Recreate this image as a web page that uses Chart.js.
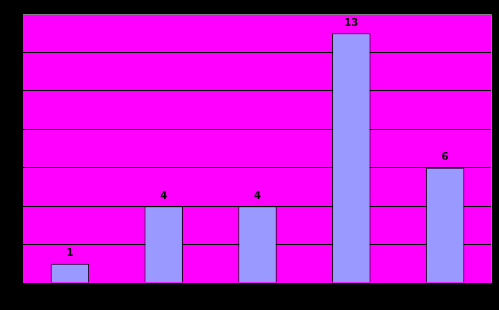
<!DOCTYPE html>
<html>
<head>
<meta charset="utf-8">
<script src="https://cdn.jsdelivr.net/npm/chart.js@4/dist/chart.umd.min.js"></script>
<style>
  html, body { margin: 0; padding: 0; background: #000; }
  #wrap { width: 499px; height: 310px; }
</style>
</head>
<body>
<div id="wrap"><canvas id="barChart"></canvas></div>
<script>
var categories = ['A', 'B', 'C', 'D', 'E'];
var counts = [1, 4, 4, 13, 6];
var yMax = 14;
var yStep = 2;

// fill plot area and print values above bars
var plotDecor = {
    id: 'plotDecor',
    beforeDraw: function (chart) {
        var a = chart.chartArea;
        var ctx = chart.ctx;
        ctx.save();
        ctx.fillStyle = '#FF00FF';
        ctx.fillRect(a.left, a.top, a.right - a.left, a.bottom - a.top);
        ctx.restore();
    },
    afterDatasetsDraw: function (chart) {
        var ctx = chart.ctx;
        var a = chart.chartArea;
        ctx.save();
        ctx.strokeStyle = '#808080';
        ctx.lineWidth = 1;
        ctx.beginPath();
        ctx.moveTo(a.left, a.top + 0.5);
        ctx.lineTo(a.right - 0.5, a.top + 0.5);
        ctx.lineTo(a.right - 0.5, a.bottom);
        ctx.stroke();
        ctx.fillStyle = '#000';
        ctx.font = 'bold 10px "DejaVu Sans", sans-serif';
        ctx.textAlign = 'center';
        ctx.textBaseline = 'bottom';
        chart.getDatasetMeta(0).data.forEach(function (bar, i) {
            ctx.fillText(counts[i], bar.x, bar.y - 5);
        });
        ctx.restore();
    }
};

var ctx = document.getElementById('barChart').getContext('2d');
new Chart(ctx, {
    type: 'bar',
    data: {
        labels: categories,
        datasets: [{
            data: counts,
            backgroundColor: '#9999FF',
            borderColor: '#000',
            borderWidth: 1,
            barPercentage: 0.41,
            categoryPercentage: 1
        }]
    },
    options: {
        responsive: true,
        maintainAspectRatio: false,
        animation: false,
        layout: {
            padding: {left: 23, top: 14, right: 7, bottom: 19}
        },
        plugins: {
            legend: {display: false},
            tooltip: {enabled: false}
        },
        scales: {
            x: {
                ticks: {display: false},
                grid: {display: false},
                border: {display: false}
            },
            y: {
                min: 0,
                max: yMax,
                ticks: {display: false, stepSize: yStep},
                grid: {color: '#000', lineWidth: 1, drawTicks: false},
                border: {display: false}
            }
        }
    },
    plugins: [plotDecor]
});
</script>
</body>
</html>
